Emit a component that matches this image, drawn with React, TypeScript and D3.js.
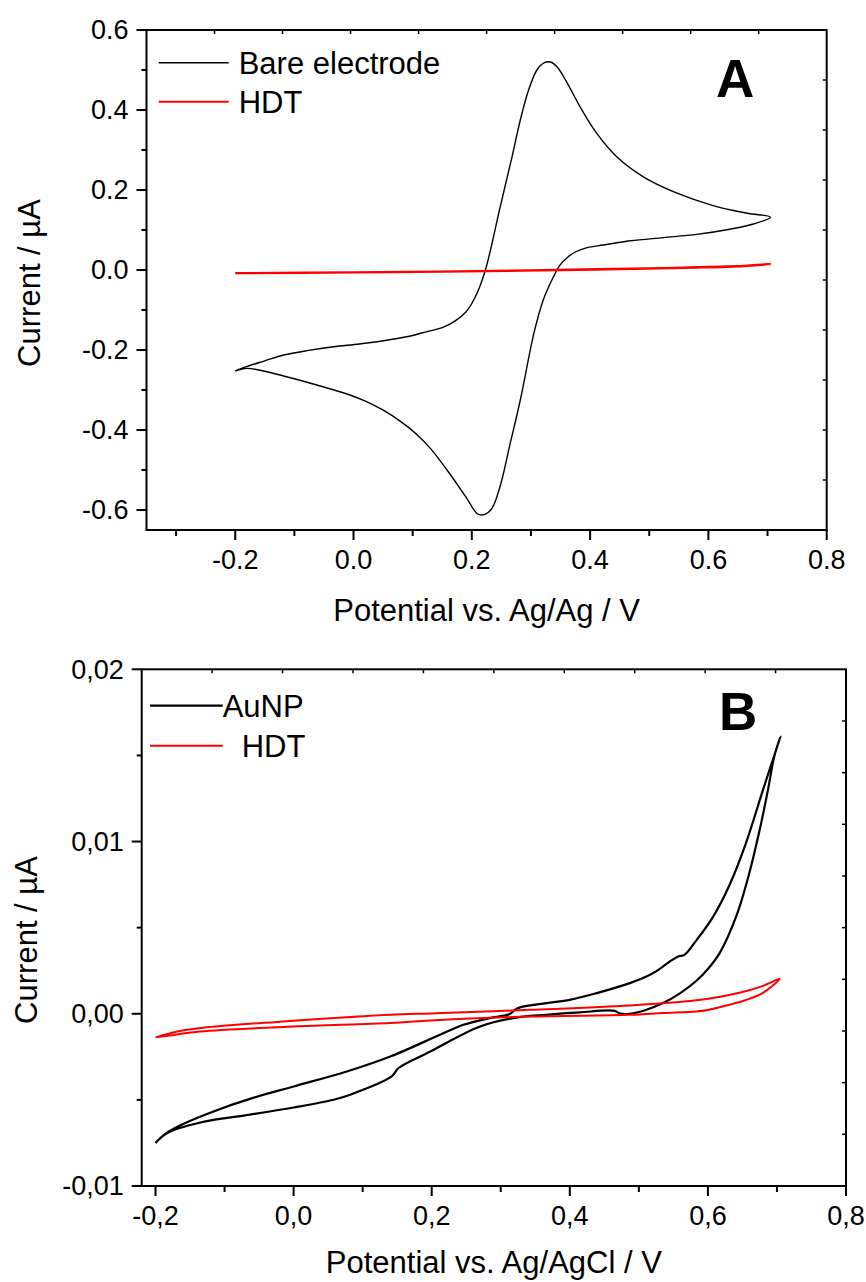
import React from 'react';
import * as d3 from 'd3';

// ---------- Panel A data (Current / µA vs Potential / V) ----------
const bareX = [
  -0.2, -0.186, -0.15, -0.118, -0.076, -0.034, 0.01, 0.051, 0.09, 0.124, 0.15, 0.172, 0.19, 0.205, 0.222,
  0.248, 0.268, 0.282, 0.296, 0.31, 0.322, 0.333, 0.344, 0.36, 0.383, 0.411, 0.445, 0.49, 0.547, 0.608, 0.665, 0.705,
  0.676, 0.636, 0.58, 0.524, 0.468, 0.4225, 0.395, 0.375, 0.362, 0.349, 0.338, 0.33, 0.32, 0.305, 0.282, 0.265,
  0.248, 0.234, 0.222, 0.21, 0.192, 0.163, 0.13, 0.107, 0.08, 0.051, 0.02, -0.006, -0.062, -0.118, -0.16, -0.18, -0.2,
];
const bareY = [
  -0.2525, -0.244, -0.227, -0.2125, -0.201, -0.192, -0.185, -0.177, -0.167, -0.154, -0.144, -0.127, -0.105, -0.07, -0.005,
  0.158, 0.283, 0.375, 0.45, 0.5, 0.518, 0.52, 0.508, 0.471, 0.408, 0.342, 0.283, 0.233, 0.192, 0.161, 0.142, 0.132,
  0.115, 0.102, 0.089, 0.081, 0.073, 0.0625, 0.056, 0.045, 0.032, 0.012, -0.017, -0.042, -0.078, -0.158, -0.325, -0.433,
  -0.54, -0.596, -0.611, -0.61, -0.572, -0.51, -0.446, -0.411, -0.379, -0.351, -0.328, -0.3125, -0.2875, -0.265, -0.25, -0.246, -0.2525,
];
const hdtAX = [-0.2, 0.0, 0.146, 0.3, 0.411, 0.5, 0.58, 0.665, 0.705, 0.66, 0.58, 0.41, 0.15, 0.0, -0.2];
const hdtAY = [-0.008, -0.006, -0.004, -0.001, 0.002, 0.004, 0.007, 0.011, 0.015, 0.01, 0.006, 0.001, -0.004, -0.006, -0.008];

const aXTicks = [-0.2, 0.0, 0.2, 0.4, 0.6, 0.8];
const aXLabels = ['-0.2', '0.0', '0.2', '0.4', '0.6', '0.8'];
const aXMinor = [-0.3, -0.1, 0.1, 0.3, 0.5, 0.7];
const aYTicks = [0.6, 0.4, 0.2, 0.0, -0.2, -0.4, -0.6];
const aYLabels = ['0.6', '0.4', '0.2', '0.0', '-0.2', '-0.4', '-0.6'];
const aYMinor = [0.5, 0.3, 0.1, -0.1, -0.3, -0.5];
const aLegend = ['Bare electrode', 'HDT'];

// ---------- Panel B data ----------
const aunpX = [
  -0.2, -0.185, -0.16, -0.116, -0.06, 0.0, 0.077, 0.14, 0.212, 0.246, 0.284, 0.313, 0.3205, 0.328, 0.366, 0.4,
  0.439, 0.487, 0.506, 0.525, 0.545, 0.557, 0.566, 0.583, 0.607, 0.631, 0.655, 0.679, 0.705,
  0.696, 0.687, 0.675, 0.66, 0.641, 0.617, 0.6, 0.583, 0.56, 0.535, 0.51, 0.487, 0.472, 0.465, 0.4145, 0.366,
  0.318, 0.27, 0.198, 0.152, 0.142, 0.082, 0.058, 0.0, -0.07, -0.135, -0.183, -0.2,
];
const aunpY = [
  -0.0075, -0.00695, -0.0064, -0.00567, -0.0049, -0.00422, -0.00335, -0.00248, -0.00122, -0.00064, -0.00025, -0.00002, 0.00023, 0.00037, 0.00062, 0.00081,
  0.0012, 0.00178, 0.00207, 0.00246, 0.00304, 0.00333, 0.00342, 0.00425, 0.0056, 0.00745, 0.0099, 0.0129, 0.0161,
  0.01493, 0.013, 0.01068, 0.00817, 0.00565, 0.00352, 0.0026, 0.0019, 0.0012, 0.00062, 0.00022, 0.0, 0.00002, 0.00017, 0.00008, -0.00006,
  -0.00025, -0.00074, -0.00219, -0.00315, -0.00364, -0.0047, -0.00499, -0.00544, -0.0059, -0.00631, -0.00692, -0.0075,
];
const hdtBX = [
  -0.2, -0.17, -0.135, -0.07, 0.0, 0.07, 0.14, 0.205, 0.342, 0.487, 0.583, 0.62, 0.65, 0.68, 0.704,
  0.679, 0.655, 0.631, 0.6, 0.583, 0.535, 0.487, 0.342, 0.205, 0.14, 0.0, -0.135, -0.183, -0.2,
];
const hdtBY = [
  -0.00137, -0.00105, -0.00083, -0.0006, -0.00041, -0.00022, -0.00006, 0.00003, 0.00023, 0.00048, 0.00078, 0.001, 0.00126, 0.00162, 0.00203,
  0.0012, 0.0008, 0.00052, 0.00022, 0.00013, 0.00004, -0.00006, -0.00016, -0.00037, -0.00054, -0.00074, -0.00103, -0.00128, -0.00137,
];

const bXTicks = [-0.2, 0.0, 0.2, 0.4, 0.6, 0.8];
const bXLabels = ['-0,2', '0,0', '0,2', '0,4', '0,6', '0,8'];
const bXMinor = [-0.1, 0.1, 0.3, 0.5, 0.7];
const bYTicks = [0.02, 0.01, 0.0, -0.01];
const bYLabels = ['0,02', '0,01', '0,00', '-0,01'];
const bYMinor = [0.015, 0.005, -0.005];
const bLegend = ['AuNP', 'HDT'];

const FONT = '"Liberation Sans", Arial, Helvetica, sans-serif';

type Series = { xs: number[]; ys: number[]; color: string; width: number };

type PanelProps = {
  x: d3.ScaleLinear<number, number>;
  y: d3.ScaleLinear<number, number>;
  xTicks: number[];
  xLabels: string[];
  xMinor: number[];
  yTicks: number[];
  yLabels: string[];
  yMinor: number[];
  series: Series[];
  xTitle: string;
  xTitleY: number;
  yTitleX: number;
  yTitleY: number;
  legend: { label: string; color: string; lineY: number; textX: number; x1: number; x2: number; width: number }[];
  letter: string;
  letterX: number;
  letterY: number;
};

function Panel(p: PanelProps) {
  const [x0, x1] = p.x.range();
  const [y1, y0] = p.y.range();
  const xd = p.x.domain();
  const yd = p.y.domain();
  const line = (s: Series) =>
    d3
      .line<number>()
      .x((_, i) => p.x(s.xs[i]))
      .y((_, i) => p.y(s.ys[i]))
      .curve(d3.curveCatmullRom.alpha(0.5))(s.xs) || '';
  const divs = d3.range(1, 10);
  return (
    <g fontFamily={FONT}>
      {p.series.map((s, i) => (
        <path key={i} d={line(s)} fill="none" stroke={s.color} strokeWidth={s.width} strokeLinejoin="round" />
      ))}
      <rect x={x0} y={y0} width={x1 - x0} height={y1 - y0} fill="none" stroke="#000" strokeWidth={2} />
      {/* inner ticks on top and right */}
      {divs.map((i) => {
        const xv = p.x(xd[0] + ((xd[1] - xd[0]) * i) / 10);
        const yv = p.y(yd[0] + ((yd[1] - yd[0]) * i) / 10);
        return (
          <g key={i} stroke="#000" strokeWidth={1.5}>
            <line x1={xv} x2={xv} y1={y0} y2={y0 + 4} />
            <line x1={x1 - 4} x2={x1} y1={yv} y2={yv} />
          </g>
        );
      })}
      {p.yTicks.map((t, i) => (
        <g key={'y' + i}>
          <line x1={x0 - 10} x2={x0} y1={p.y(t)} y2={p.y(t)} stroke="#000" strokeWidth={2} />
          <text x={x0 - 18} y={p.y(t)} dy="0.35em" textAnchor="end" fontSize={27}>
            {p.yLabels[i]}
          </text>
        </g>
      ))}
      {p.yMinor.map((t, i) => (
        <line key={'ym' + i} x1={x0 - 5} x2={x0} y1={p.y(t)} y2={p.y(t)} stroke="#000" strokeWidth={2} />
      ))}
      {p.xTicks.map((t, i) => (
        <g key={'x' + i}>
          <line x1={p.x(t)} x2={p.x(t)} y1={y1} y2={y1 + 10} stroke="#000" strokeWidth={2} />
          <text x={p.x(t)} y={y1 + 39} textAnchor="middle" fontSize={27}>
            {p.xLabels[i]}
          </text>
        </g>
      ))}
      {p.xMinor.map((t, i) => (
        <line key={'xm' + i} x1={p.x(t)} x2={p.x(t)} y1={y1} y2={y1 + 6} stroke="#000" strokeWidth={2} />
      ))}
      <text x={(x0 + x1) / 2} y={p.xTitleY} textAnchor="middle" fontSize={31}>
        {p.xTitle}
      </text>
      <text
        transform={`translate(${p.yTitleX},${p.yTitleY}) rotate(-90)`}
        textAnchor="middle"
        fontSize={31}
      >
        Current / µA
      </text>
      {p.legend.map((l, i) => (
        <g key={'l' + i}>
          <line x1={l.x1} x2={l.x2} y1={l.lineY} y2={l.lineY} stroke={l.color} strokeWidth={l.width} />
          <text x={l.textX} y={l.lineY + 11} fontSize={31}>
            {l.label}
          </text>
        </g>
      ))}
      <text x={p.letterX} y={p.letterY} fontSize={53} fontWeight="bold">
        {p.letter}
      </text>
    </g>
  );
}

export default function App() {
  const xA = d3.scaleLinear().domain([-0.35, 0.8]).range([146.5, 826.7]);
  const yA = d3.scaleLinear().domain([-0.65, 0.6]).range([530, 30]);
  const xB = d3.scaleLinear().domain([-0.22, 0.8]).range([141.7, 846]);
  const yB = d3.scaleLinear().domain([-0.01, 0.02]).range([1186, 669.3]);

  return (
    <svg
      width={866}
      height={1282}
      viewBox="0 0 866 1282"
      style={{ position: 'absolute', left: 0, top: 0, background: '#fff' }}
    >
      <rect width={866} height={1282} fill="#fff" />
      <Panel
        x={xA}
        y={yA}
        xTicks={aXTicks}
        xLabels={aXLabels}
        xMinor={aXMinor}
        yTicks={aYTicks}
        yLabels={aYLabels}
        yMinor={aYMinor}
        series={[
          { xs: bareX, ys: bareY, color: '#000', width: 1.4 },
          { xs: hdtAX, ys: hdtAY, color: '#ff0000', width: 2.3 },
        ]}
        xTitle="Potential vs. Ag/Ag / V"
        xTitleY={621}
        yTitleX={40}
        yTitleY={283}
        legend={[
          { label: aLegend[0], color: '#000', lineY: 62.7, textX: 238.7, x1: 158.7, x2: 228.7, width: 1.4 },
          { label: aLegend[1], color: '#ff0000', lineY: 101.7, textX: 238.7, x1: 158.7, x2: 228.7, width: 2 },
        ]}
        letter="A"
        letterX={716}
        letterY={96.7}
      />
      <Panel
        x={xB}
        y={yB}
        xTicks={bXTicks}
        xLabels={bXLabels}
        xMinor={bXMinor}
        yTicks={bYTicks}
        yLabels={bYLabels}
        yMinor={bYMinor}
        series={[
          { xs: aunpX, ys: aunpY, color: '#000', width: 2.2 },
          { xs: hdtBX, ys: hdtBY, color: '#ff0000', width: 2 },
        ]}
        xTitle="Potential vs. Ag/AgCl / V"
        xTitleY={1273}
        yTitleX={37}
        yTitleY={940}
        legend={[
          { label: bLegend[0], color: '#000', lineY: 705.7, textX: 222.7, x1: 150, x2: 222.7, width: 2.2 },
          { label: bLegend[1], color: '#ff0000', lineY: 745.7, textX: 241.7, x1: 150, x2: 222.7, width: 2 },
        ]}
        letter="B"
        letterX={719}
        letterY={730}
      />
    </svg>
  );
}
